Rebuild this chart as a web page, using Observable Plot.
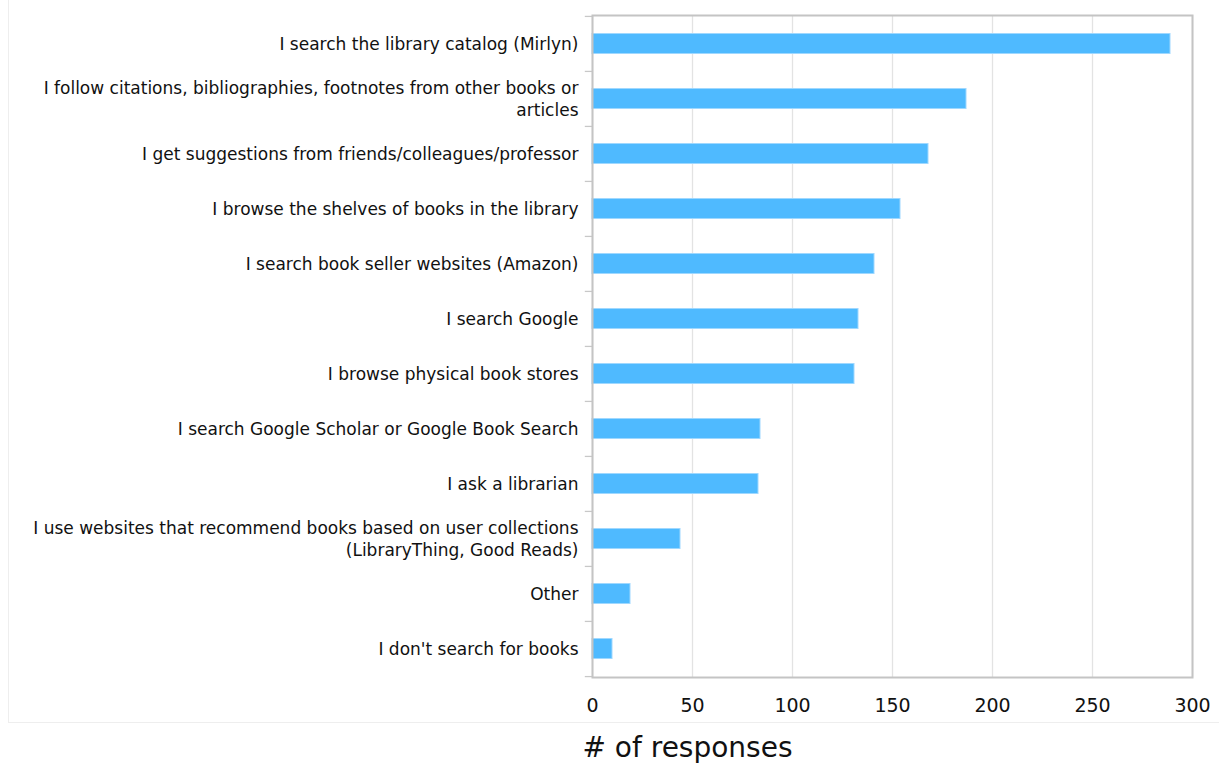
<!DOCTYPE html>
<html>
<head>
<meta charset="utf-8">
<script src="https://cdn.jsdelivr.net/npm/d3@7"></script>
<script src="https://cdn.jsdelivr.net/npm/@observablehq/plot@0.6"></script>
<style>
  html, body { margin: 0; padding: 0; background: #fff; }
  #wrap { position: relative; width: 1219px; height: 765px; font-family: "DejaVu Sans", Verdana, sans-serif; }
  #outer { position: absolute; left: 8px; top: -2px; width: 1211px; height: 725px; border-left: 1px solid #eeeeee; border-bottom: 1px solid #eeeeee; box-sizing: border-box; }
  #chart { position: absolute; left: 0; top: 0; }
</style>
</head>
<body>
<div id="wrap"><div id="outer"></div><div id="chart"></div></div>
<script>
const categories = [
  "I search the library catalog (Mirlyn)",
  "I follow citations, bibliographies, footnotes from other books or\narticles",
  "I get suggestions from friends/colleagues/professor",
  "I browse the shelves of books in the library",
  "I search book seller websites (Amazon)",
  "I search Google",
  "I browse physical book stores",
  "I search Google Scholar or Google Book Search",
  "I ask a librarian",
  "I use websites that recommend books based on user collections\n(LibraryThing, Good Reads)",
  "Other",
  "I don't search for books"
];
const responses = [289, 187, 168, 154, 141, 133, 131, 84, 83, 44, 19, 10];
const xTicks = [0, 50, 100, 150, 200, 250, 300];
const xLabel = "# of responses";

const data = categories.map((c, i) => ({category: c, value: responses[i]}));

const chart = Plot.plot({
  width: 1219,
  height: 765,
  marginLeft: 592,
  marginRight: 27,
  marginTop: 15,
  marginBottom: 88,
  style: {fontFamily: "'DejaVu Sans', Verdana, sans-serif", background: "transparent"},
  x: {domain: [0, 300], ticks: xTicks},
  y: {domain: categories, padding: 0},
  marks: [
    Plot.gridX(xTicks, {stroke: "#e3e3e3", strokeOpacity: 1, strokeWidth: 1.3}),
    Plot.barX(data, {x: "value", y: "category", fill: "#4fbaff", stroke: "#9fd8ff", strokeWidth: 1, insetTop: 17.5, insetBottom: 17.5}),
    Plot.ruleY(categories, {y: d => d, x1: -3.6, x2: 0, stroke: "#c8c8c8", strokeWidth: 1.3, dy: -27.58}),
    Plot.ruleY([categories[categories.length - 1]], {y: d => d, x1: -3.6, x2: 0, stroke: "#c8c8c8", strokeWidth: 1.3, dy: 27.58}),
    Plot.frame({stroke: "#c4c4c4", strokeWidth: 2}),
    Plot.axisY({tickSize: 0, tickPadding: 14, fontSize: 17, lineHeight: 1.3, label: null, fill: "#111", dy: -1}),
    Plot.axisX(xTicks, {tickSize: 0, tickPadding: 21, fontSize: 19, label: null, fill: "#111"}),
    Plot.text([xLabel], {frameAnchor: "bottom-left", text: d => d, textAnchor: "start", dx: -10, dy: 79, fontSize: 28, fill: "#111"})
  ]
});
document.getElementById("chart").appendChild(chart);
</script>
</body>
</html>
